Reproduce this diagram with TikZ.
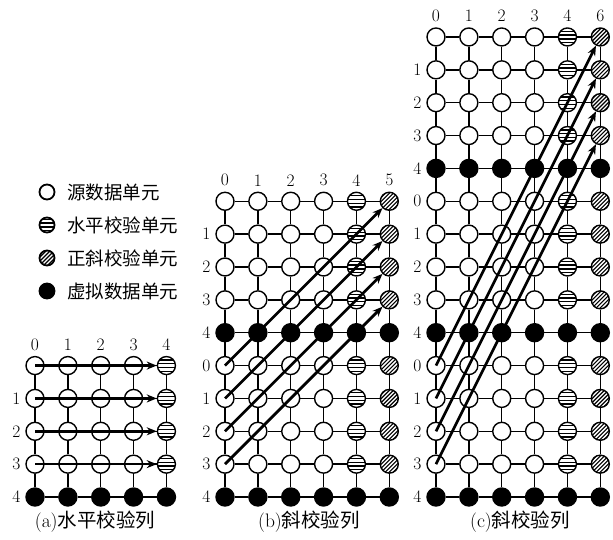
\documentclass[tikz,border=0pt]{standalone}
\usepackage{fontspec}
\newfontfamily\cjk{Noto Sans CJK SC}
\usetikzlibrary{arrows.meta}
\begin{document}
\begin{tikzpicture}[x=1pt,y=-1pt,
  cell/.style={circle, draw, line width=1.4pt, minimum size=18pt, inner sep=0pt, fill=white},
  virt/.style={cell, fill=black},
  hpar/.style={cell, path picture={
      \foreach \k in {-5.6,-1.9,1.9,5.6}
        \draw[line width=1.3pt] ([yshift=\k pt]path picture bounding box.west) -- ([yshift=\k pt]path picture bounding box.east);}},
  dpar/.style={cell, path picture={
      \foreach \k in {-16,-12,...,16}
        \draw[line width=1.1pt] ([xshift=\k pt]path picture bounding box.south west) -- ([xshift=\k pt]path picture bounding box.north east);}},
  legcell/.style={minimum size=15pt, line width=1.8pt},
  link/.style={line width=1.5pt},
  flow/.style={line width=2.7pt, -{Stealth[length=10pt,width=8pt]}},
  num/.style={font=\fontsize{17.5}{17.5}\selectfont, inner sep=0pt},
  txt/.style={font=\fontsize{18.5}{18.5}\selectfont\cjk, inner sep=0pt},
  captiontext/.style={font=\fontsize{19.5}{19.5}\selectfont, inner sep=0pt},
]
\useasboundingbox (0,0) rectangle (613,539);
\def\dx{32.86}
\def\dy{32.86}

% ---------- cells ----------
% (a) horizontal parity
\foreach \c in {0,...,3} \foreach \j in {1,...,4}
  \node[cell] (a-\c-\j) at (35+\c*\dx, 497-\j*\dy) {};
\foreach \j in {1,...,4}
  \node[hpar] (a-4-\j) at (35+4*\dx, 497-\j*\dy) {};
\foreach \c in {0,...,4}
  \node[virt] (a-\c-0) at (35+\c*\dx, 497) {};

% (b) diagonal parity, two blocks
\foreach \j in {1,2,3,4,6,7,8,9} {
  \foreach \c in {0,...,3}
    \node[cell] (b-\c-\j) at (225+\c*\dx, 497-\j*\dy) {};
  \node[hpar] (b-4-\j) at (225+4*\dx, 497-\j*\dy) {};
  \node[dpar] (b-5-\j) at (225+5*\dx, 497-\j*\dy) {};
}
\foreach \j in {0,5} \foreach \c in {0,...,5}
  \node[virt] (b-\c-\j) at (225+\c*\dx, 497-\j*\dy) {};

% (c) diagonal parity, three blocks
\foreach \j in {1,2,3,4,6,7,8,9,11,12,13,14} {
  \foreach \c in {0,...,3}
    \node[cell] (c-\c-\j) at (436+\c*\dx, 497-\j*\dy) {};
  \node[hpar] (c-4-\j) at (436+4*\dx, 497-\j*\dy) {};
  \node[dpar] (c-5-\j) at (436+5*\dx, 497-\j*\dy) {};
}
\foreach \j in {0,5,10} \foreach \c in {0,...,5}
  \node[virt] (c-\c-\j) at (436+\c*\dx, 497-\j*\dy) {};

% ---------- grid links between neighbouring cells ----------
\foreach \p/\cmax/\jmax in {a/4/4, b/5/9, c/5/14} {
  \foreach \c in {0,...,\cmax} {
    \foreach \j in {1,...,\jmax} {
      \pgfmathtruncatemacro\jj{\j-1}
      \draw[link] (\p-\c-\j) -- (\p-\c-\jj);
    }
  }
  \pgfmathtruncatemacro\cm{\cmax-1}
  \foreach \j in {0,...,\jmax} {
    \foreach \c in {0,...,\cm} {
      \pgfmathtruncatemacro\cc{\c+1}
      \draw[link] (\p-\c-\j) -- (\p-\cc-\j);
    }
  }
}

% ---------- column numbers ----------
\foreach \c in {0,...,4}
  \node[num] (a-col-\c) at ([yshift=21pt]a-\c-4.center) {\c};
\foreach \c in {0,...,5}
  \node[num] (b-col-\c) at ([yshift=21pt]b-\c-9.center) {\c};
\foreach \c/\t in {0/0,1/1,2/2,3/3,4/4,5/6}
  \node[num] (c-col-\c) at ([yshift=21pt]c-\c-14.center) {\t};

% ---------- row numbers ----------
\foreach \p/\jtop in {a/4, b/9, c/14} {
  \pgfmathtruncatemacro\jm{\jtop-1}
  \foreach \j in {0,...,\jm} {
    \pgfmathtruncatemacro\r{4-mod(\j,5)}
    \node[num] (\p-row-\j) at ([xshift=-18.5pt]\p-0-\j.center) {\r};
  }
}

% ---------- parity chains ----------
\foreach \j in {1,...,4}
  \draw[flow] (a-0-\j.center) -- (a-4-\j);
\foreach \j in {1,...,4} {
  \pgfmathtruncatemacro\k{\j+5}
  \draw[flow] (b-0-\j.center) -- (b-5-\k);
}
\foreach \j in {1,...,4} {
  \pgfmathtruncatemacro\k{\j+10}
  \draw[flow] (c-0-\j.center) -- (c-5-\k);
}

% ---------- legend ----------
\node[cell, legcell] (l1) at (47,192) {};
\node[hpar, legcell] (l2) at (47,225) {};
\node[dpar, legcell] (l3) at (47,258) {};
\node[virt, legcell] (l4) at (47,291) {};
\node[txt, anchor=west] (t1) at (67,192) {源数据单元};
\node[txt, anchor=west] (t2) at (67,225) {水平校验单元};
\node[txt, anchor=west] (t3) at (67,258) {正斜校验单元};
\node[txt, anchor=west] (t4) at (67,291) {虚拟数据单元};

% ---------- captions ----------
\node[captiontext] (capa) at (95,522) {(a)\cjk 水平校验列};
\node[captiontext] (capb) at (309,522) {(b)\cjk 斜校验列};
\node[captiontext] (capc) at (520,522) {(c)\cjk 斜校验列};
\end{tikzpicture}
\end{document}
